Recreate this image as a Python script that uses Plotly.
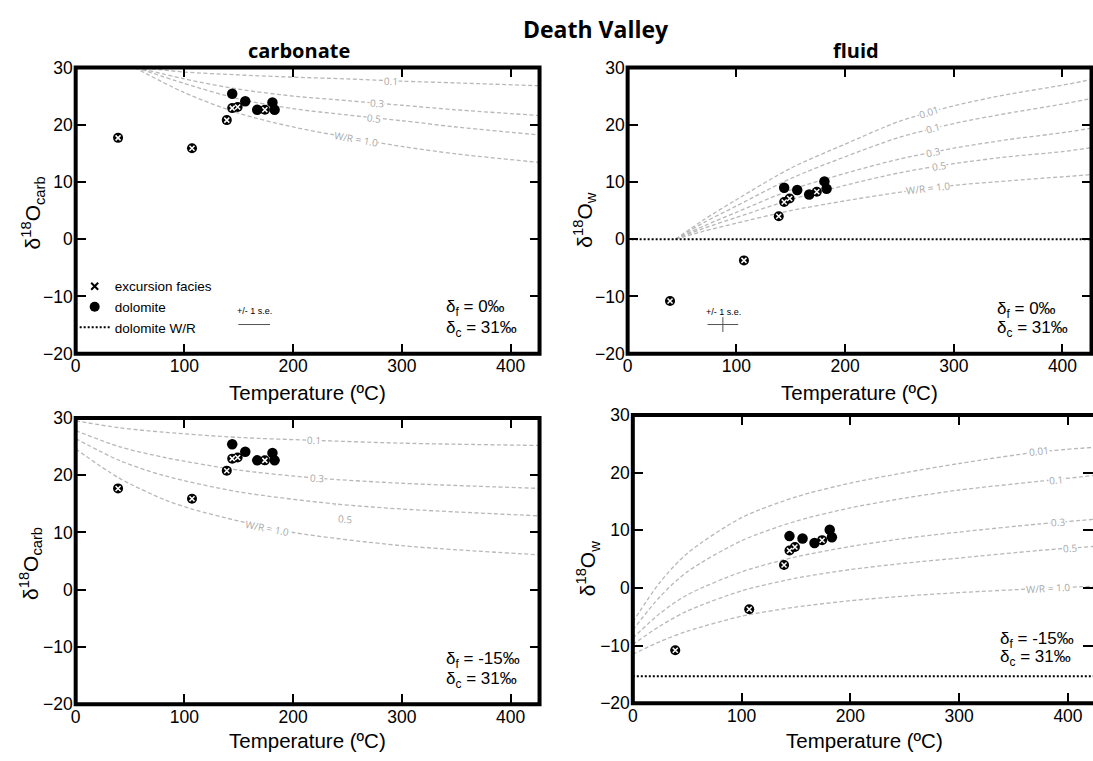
import plotly.graph_objects as go

W, H = 1093, 761

# ---------------- data ----------------
temp_exc = [39, 107, 139, 144, 149, 174]
carb_exc = [17.7, 15.9, 20.8, 22.9, 23.1, 22.6]
fluid_exc = [-10.8, -3.7, 4.0, 6.5, 7.1, 8.3]
temp_dol = [144, 156, 167, 181, 183]
carb_dol = [25.4, 24.1, 22.6, 23.9, 22.6]
fluid_dol = [9.0, 8.6, 7.8, 10.1, 8.8]

# carbonate, delta_f = 0 permil (W/R curves)
tl_T = {
    "0.1": [58, 100, 150, 200, 250, 300, 350, 427],
    "0.3": [56, 100, 150, 200, 250, 300, 350, 427],
    "0.5": [55, 100, 150, 200, 250, 300, 350, 427],
    "1.0": [54, 100, 150, 200, 250, 300, 350, 427],
}
tl_y = {
    "0.1": [30, 29.2, 28.7, 28.3, 28.0, 27.6, 27.3, 26.8],
    "0.3": [30, 28.0, 26.2, 25.0, 24.2, 23.4, 22.6, 21.6],
    "0.5": [30, 27.2, 24.5, 22.8, 21.7, 20.7, 19.6, 18.2],
    "1.0": [30, 25.6, 22.0, 19.6, 17.8, 16.2, 14.9, 13.4],
}

# fluid, delta_f = 0 permil
tr_T = [44, 70, 100, 150, 200, 250, 300, 350, 400, 427]
tr_y = {
    "0.01": [0, 3.4, 6.9, 12.4, 16.6, 20.6, 23.3, 25.3, 26.9, 27.9],
    "0.1": [0, 2.9, 5.8, 10.6, 14.4, 17.8, 20.2, 22.0, 23.6, 24.6],
    "0.3": [0, 2.3, 4.7, 8.6, 11.5, 14.0, 15.9, 17.4, 18.6, 19.4],
    "0.5": [0, 1.9, 3.8, 6.9, 9.4, 11.6, 13.2, 14.4, 15.3, 16.0],
    "1.0": [0, 1.4, 2.8, 5.0, 6.7, 8.2, 9.4, 10.2, 10.9, 11.3],
}

# carbonate, delta_f = -15 permil
bl_T = {
    "0.1": [0, 40, 82, 150, 219, 300, 427],
    "0.3": [0, 40, 82, 150, 222, 300, 427],
    "0.5": [0, 40, 82, 150, 238, 300, 427],
    "1.0": [0, 40, 82, 107, 150, 200, 300, 427],
}
bl_y = {
    "0.1": [29.5, 28.3, 27.5, 26.6, 26.1, 25.6, 25.2],
    "0.3": [27.8, 25.0, 23.1, 20.9, 19.5, 18.6, 17.7],
    "0.5": [26.4, 22.6, 19.9, 17.1, 15.0, 14.1, 12.9],
    "1.0": [24.6, 19.5, 15.7, 14.1, 12.0, 10.0, 7.7, 6.1],
}

# fluid, delta_f = -15 permil
br_T = [0, 25, 50, 100, 150, 200, 250, 300, 373, 423]
br_y = {
    "0.01": [-5.9, 1.0, 6.0, 12.2, 15.8, 18.2, 20.0, 21.6, 23.6, 24.4],
    "0.1": [-7.3, -1.5, 2.8, 8.2, 11.6, 13.9, 15.6, 17.0, 18.5, 19.5],
    "0.3": [-8.7, -4.4, -1.2, 2.8, 5.4, 7.2, 8.6, 9.7, 11.1, 11.9],
    "0.5": [-9.8, -6.6, -4.0, -0.5, 1.7, 3.2, 4.3, 5.2, 6.5, 7.2],
    "1.0": [-11.5, -9.3, -7.5, -4.9, -3.3, -2.2, -1.4, -0.8, -0.1, 0.3],
}

# dolomite W/R reference lines (initial fluid value)
wr_line_top = 0.0
wr_line_bottom = -15.3

# curve labels: text, T, value, angle
tl_labels = [("0.1", 290, 27.7, 2), ("0.3", 277, 23.8, 5), ("0.5", 274, 21.2, 7), ("W/R = 1.0", 258, 17.5, 10)]
tr_labels = [("0.01", 277, 22.2, -17), ("0.1", 281, 19.4, -15), ("0.3", 281, 15.3, -12),
             ("0.5", 286, 12.8, -10), ("W/R = 1.0", 276, 8.9, -7)]
bl_labels = [("0.1", 219, 26.2, 2), ("0.3", 222, 19.5, 4), ("W/R = 1.0", 176, 10.7, 11)]
br_labels = [("0.01", 373, 23.7, -6), ("0.1", 389, 18.8, -5), ("0.3", 391, 11.4, -5),
             ("0.5", 402, 6.9, -5), ("W/R = 1.0", 382, 0.0, -3)]

xticks = [0, 100, 200, 300, 400]
yticks = [-20, -10, 0, 10, 20, 30]

# ---------------- layout geometry (pixels) ----------------
panels = {
    # name: (x0, x1, y0(top), y1(bottom), xmax)
    "tl": (71, 537, 59, 353, 426.7),
    "tr": (625.5, 1091.5, 59, 353, 426.7),
    "bl": (71, 537, 419, 713, 426.7),
    "br": (630.7, 1093, 416, 712, 423.0),
}
axis_ids = {"tl": ("x", "y", ""), "tr": ("x2", "y2", "2"), "bl": ("x3", "y3", "3"), "br": ("x4", "y4", "4")}

def px(v):
    return v / W

def py(v):
    return 1 - v / H

CURVE = "#b8b8b8"
LABEL = "#a9a9a9"
TICKFONT = dict(family="Liberation Sans, Arial, sans-serif", size=17.5, color="black")

fig = go.Figure()

def add_curve(ax, T, Y):
    xa, ya, _ = axis_ids[ax]
    fig.add_trace(go.Scatter(x=T, y=Y, mode="lines", xaxis=xa, yaxis=ya,
                             line=dict(color=CURVE, width=1.3, dash="4px,2.5px", shape="spline", smoothing=0.8),
                             showlegend=False, hoverinfo="skip"))

for k in tl_T:
    add_curve("tl", tl_T[k], tl_y[k])
for k in tr_y:
    add_curve("tr", tr_T, tr_y[k])
for k in bl_T:
    add_curve("bl", bl_T[k], bl_y[k])
for k in br_y:
    add_curve("br", br_T, br_y[k])

# dotted dolomite W/R lines
fig.add_trace(go.Scatter(x=[0, panels["tr"][4]], y=[wr_line_top] * 2, mode="lines", xaxis="x2", yaxis="y2",
                         line=dict(color="black", width=2, dash="2px,2px"), showlegend=False, hoverinfo="skip"))
fig.add_trace(go.Scatter(x=[0, panels["br"][4]], y=[wr_line_bottom] * 2, mode="lines", xaxis="x4", yaxis="y4",
                         line=dict(color="black", width=2, dash="2px,2px"), showlegend=False, hoverinfo="skip"))

# error bars (+/- 1 s.e.)
se_tl = dict(T=164.2, v=-14.9, ex=14.6)
se_tr = dict(T=87.6, v=-14.9, ex=14.1, ey=1.3)
fig.add_trace(go.Scatter(x=[se_tl["T"]], y=[se_tl["v"]], mode="markers", xaxis="x", yaxis="y",
                         marker=dict(size=1, opacity=0),
                         error_x=dict(type="data", array=[se_tl["ex"]], color="#555555", thickness=1, width=0),
                         showlegend=False, hoverinfo="skip"))
fig.add_trace(go.Scatter(x=[se_tr["T"]], y=[se_tr["v"]], mode="markers", xaxis="x2", yaxis="y2",
                         marker=dict(size=1, opacity=0),
                         error_x=dict(type="data", array=[se_tr["ex"]], color="#555555", thickness=1, width=0),
                         error_y=dict(type="data", array=[se_tr["ey"]], color="#555555", thickness=1, width=0),
                         showlegend=False, hoverinfo="skip"))

# data points
for ax, ce, cd in [("tl", carb_exc, carb_dol), ("tr", fluid_exc, fluid_dol),
                   ("bl", carb_exc, carb_dol), ("br", fluid_exc, fluid_dol)]:
    xa, ya, _ = axis_ids[ax]
    fig.add_trace(go.Scatter(x=temp_dol, y=cd, mode="markers", xaxis=xa, yaxis=ya,
                             marker=dict(symbol="circle", size=10.5, color="black"),
                             showlegend=False, hoverinfo="skip"))
    fig.add_trace(go.Scatter(x=temp_exc, y=ce, mode="markers", xaxis=xa, yaxis=ya,
                             marker=dict(symbol="circle", size=10, color="black"),
                             showlegend=False, hoverinfo="skip"))
    fig.add_trace(go.Scatter(x=temp_exc, y=ce, mode="markers", xaxis=xa, yaxis=ya,
                             marker=dict(symbol="x-thin-open", size=5, color="white",
                                         line=dict(color="white", width=1.5)),
                             showlegend=False, hoverinfo="skip"))

# legend entries
fig.add_trace(go.Scatter(x=[None], y=[None], mode="markers", name="excursion facies", xaxis="x", yaxis="y",
                         marker=dict(symbol="x-thin-open", size=7, color="black", line=dict(color="black", width=2))))
fig.add_trace(go.Scatter(x=[None], y=[None], mode="markers", name="dolomite", xaxis="x", yaxis="y",
                         marker=dict(symbol="circle", size=10, color="black")))
fig.add_trace(go.Scatter(x=[None], y=[None], mode="lines", name="dolomite W/R", xaxis="x", yaxis="y",
                         line=dict(color="black", width=2, dash="2px,2px")))

layout = dict(width=W, height=H, margin=dict(l=0, r=0, t=0, b=0, pad=0),
              paper_bgcolor="white", plot_bgcolor="white", showlegend=True,
              legend=dict(x=px(70), y=py(268), xanchor="left", yanchor="top",
                          font=dict(family="Liberation Sans, Arial, sans-serif", size=13.5, color="black"),
                          bgcolor="rgba(0,0,0,0)", tracegroupgap=0, itemwidth=30),
              hovermode=False)

shapes = []
for name, (x0, x1, y0, y1, xmax) in panels.items():
    xa, ya, suf = axis_ids[name]
    layout["xaxis" + suf] = dict(domain=[px(x0), px(x1)], range=[0, xmax], anchor=ya,
                                 tickvals=xticks, ticks="inside", ticklen=10, tickwidth=2, tickcolor="black",
                                 mirror="ticks", showline=False, showgrid=False, zeroline=False,
                                 tickfont=TICKFONT, fixedrange=True)
    layout["yaxis" + suf] = dict(domain=[py(y1), py(y0)], range=[-20, 30], anchor=xa,
                                 tickvals=yticks, ticks="inside", ticklen=10, tickwidth=2, tickcolor="black",
                                 mirror="ticks", showline=False, showgrid=False, zeroline=False,
                                 tickfont=TICKFONT, ticklabelstandoff=2, fixedrange=True)
    xr = 1.02 if name == "br" else 1
    shapes.append(dict(type="rect", xref=xa + " domain", yref=ya + " domain", x0=0, x1=xr, y0=0, y1=1,
                       line=dict(color="black", width=4), fillcolor="rgba(0,0,0,0)", layer="above"))
layout["shapes"] = shapes

ann = []
TITLEFONT = "Open Sans, Noto Sans, sans-serif"
ann.append(dict(text="<b>Death Valley</b>", x=px(594), y=py(19), xref="paper", yref="paper",
                showarrow=False, xanchor="center", yanchor="middle",
                font=dict(family=TITLEFONT, size=23, color="black")))
ann.append(dict(text="<b>carbonate</b>", x=px(295), y=py(42), xref="paper", yref="paper",
                showarrow=False, xanchor="center", yanchor="middle",
                font=dict(family=TITLEFONT, size=20, color="black")))
ann.append(dict(text="<b>fluid</b>", x=px(855), y=py(42), xref="paper", yref="paper",
                showarrow=False, xanchor="center", yanchor="middle",
                font=dict(family=TITLEFONT, size=20, color="black")))

LAB = dict(family="Liberation Sans, Arial, sans-serif", size=20.5, color="black")
for name, (x0, x1, y0, y1, xmax) in panels.items():
    cx = (x0 + x1) / 2 if name != "br" else (630.7 + 1097) / 2
    ty = 393 if y0 < 100 else 750
    ann.append(dict(text="Temperature (ºC)", x=px(cx), y=py(ty), xref="paper", yref="paper",
                    showarrow=False, xanchor="center", yanchor="middle", font=LAB))

YLAB = dict(family="Liberation Sans, Arial, sans-serif", size=21, color="black")
ytitles = {"tl": ("δ<sup>18</sup>O<sub>carb</sub>", 28, 208), "tr": ("δ<sup>18</sup>O<sub>w</sub>", 582, 216),
           "bl": ("δ<sup>18</sup>O<sub>carb</sub>", 25, 568), "br": ("δ<sup>18</sup>O<sub>w</sub>", 586, 574)}
for name, (t, xx, yy) in ytitles.items():
    ann.append(dict(text=t, x=px(xx), y=py(yy), xref="paper", yref="paper", textangle=-90,
                    showarrow=False, xanchor="center", yanchor="middle", font=YLAB))

# delta annotations
DF = dict(family="Liberation Sans, Arial, sans-serif", size=17, color="black")
dtexts = {"tl": ("0‰", 339, -12.1, -15.6), "tr": ("0‰", 338, -12.4, -15.7),
          "bl": ("-15‰", 339, -12.3, -15.7), "br": ("-15‰", 336, -9.0, -12.2)}
for name, (v, T, y1, y2) in dtexts.items():
    xa, ya, _ = axis_ids[name]
    ann.append(dict(text="δ<sub>f</sub> = " + v, x=T, y=y1, xref=xa, yref=ya, showarrow=False,
                    xanchor="left", yanchor="middle", font=DF))
    ann.append(dict(text="δ<sub>c</sub> = 31‰", x=T, y=y2, xref=xa, yref=ya, showarrow=False,
                    xanchor="left", yanchor="middle", font=DF))

# +/- 1 s.e. texts
SE = dict(family="Liberation Sans, Arial, sans-serif", size=9, color="black")
ann.append(dict(text="+/- 1 s.e.", x=164.5, y=-12.6, xref="x", yref="y", showarrow=False, font=SE))
ann.append(dict(text="+/- 1 s.e.", x=88, y=-12.7, xref="x2", yref="y2", showarrow=False, font=SE))

# curve labels
LF = dict(family="Open Sans, sans-serif", size=10, color=LABEL)
for name, labs in [("tl", tl_labels), ("tr", tr_labels), ("bl", bl_labels), ("br", br_labels)]:
    xa, ya, _ = axis_ids[name]
    for t, T, v, ang in labs:
        ann.append(dict(text=t, x=T, y=v, xref=xa, yref=ya, showarrow=False, textangle=ang,
                        bgcolor="white", borderpad=0, font=LF))
# bottom-left 0.5 label with leader
ann.append(dict(text="0.5", x=238, y=14.9, xref="x3", yref="y3", ax=248, ay=12.4, axref="x3", ayref="y3",
                showarrow=True, arrowhead=0, arrowwidth=0.8, arrowcolor=LABEL, standoff=0, startstandoff=5,
                textangle=5, font=LF))

layout["annotations"] = ann
fig.update_layout(**layout)
fig.write_html("out.html")
